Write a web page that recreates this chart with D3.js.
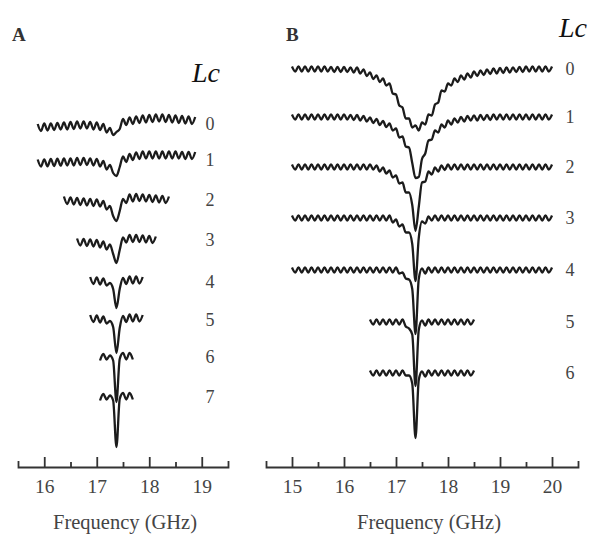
<!DOCTYPE html>
<html>
<head>
<meta charset="utf-8">
<script src="https://cdn.jsdelivr.net/npm/d3@7"></script>
<style>
  body { margin: 0; background: #fff; }
</style>
</head>
<body>
<script>
// sample spacing along frequency (GHz) used for every trace
var stepGHz = 0.0625;
var serif = "'Liberation Serif', 'Times New Roman', serif";

// ---- panel A ----
var lcA = ["0", "1", "2", "3", "4", "5", "6", "7"];
var startA = [15.875, 15.875, 16.375, 16.625, 16.875, 16.875, 17.0625, 17.0625];
var baseA = [0, -36, -76, -116, -158, -196, -233, -273];   // stacking offset (a.u.)
var traceA0 = [0,-7,0.5,-6.5,0.5,-6,1,-5.5,1.5,-5.5, 2,-5,2.5,-4.5,2.5,-4.5,2,-5.5,1.5,-6,
  0,-8.5,-4,-11,-8,-5,5,-1,6.5,0, 7.5,1,8.5,1.5,9,2,9.5,2.5,9.5,2, 9,1.5,8.5,1,8,0.5,7.5,0,7];
var traceA1 = [0.5,-6.5,0.7,-6.3,1,-6,1.3,-5.7,1.5,-5.5, 1.5,-5.5,2,-5,2,-5,1.5,-5.5,1,-6.5,
  -1,-9.5,-5,-13,-16,-7,3.5,-2,6,0, 7.5,1,8.5,1.5,8.5,1.5,8.5,1.5,8.5,1.5, 8.5,1.5,8.5,1.5,8,1,8,1,8];
var traceA2 = [3.5,-4,2.5,-4.5,2,-5,1.5,-5.5,1,-6, 0.5,-6.5,-1,-9.5,-6,-16,-21,-11,1,-3,
  5.5,-1.5,6,-1,5.5,-1.5,5,-2,4.5,-2.5, 4,-3,3.5];
var traceA3 = [1.5,-5.5,1,-6,0.5,-6.5,0,-7.5,-1.5,-9.5, -4.5,-14,-23,-10,2.5,-2.5,5,-2,5,-2,
  4.5,-2.5,4,-3,3.5];
var traceA4 = [5,-2,4.5,-2.5,3.5,-3.5,-1,-7,-26,-7,4,-2,5.5,-1.5,5.5,-1.5,5];
var traceA5 = [5,-2,4.5,-2.5,3.5,-3.5,-1,-7,-33,-8,4,-2,5.5,-1.5,5.5,-1.5,5];
var traceA6 = [-3.5,3,-2.5,1.5,-3.5,-45,-2,4,-2.5,4,-2.5];
var traceA7 = [-3.5,3,-2.5,1.5,-3.5,-50,-2,4,-2.5,4,-2.5];
var tracesA = [traceA0, traceA1, traceA2, traceA3, traceA4, traceA5, traceA6, traceA7];
var majorA = [16, 17, 18, 19];
var minorA = [16.5, 17.5, 18.5];

// ---- panel B ----
var lcB = ["0", "1", "2", "3", "4", "5", "6"];
var startB = [15, 15, 15, 15, 15, 16.5, 16.5];
var baseB = [0, -48, -98, -149, -201, -253, -304];
var traceB0 = [2.5,-2.5,2.5,-2.5,2.5,-2.5,2.5,-2.5,2.5,-2.5, 2.5,-2.5,2,-3,2,-3,2,-3,1.5,-3.5,
  1.5,-4.5,-0.5,-7,-3.5,-10,-6.5,-13,-9.5,-16.5, -14.5,-24.5,-25.5,-36.5,-38.5,-49.5,-49.5,-58.5,-56.5,-61.5,
  -53.5,-55.5,-45.5,-46.5,-35.5,-33.5,-21.5,-22.5,-14.5,-16.5, -9.5,-13,-6.5,-10.5,-4.5,-8.5,-2.5,-7,-1.5,-6,
  -0.5,-5,0.5,-4.5,1,-4,1.5,-3.5,1.5,-3, 2,-3,2.5,-2.5,2.5,-2.5,2.5,-2.5,2.5,-2.5, 2.5];
var traceB1 = [2.5,-2.5,2.5,-2.5,2.5,-2.5,2.5,-2.5,2.5,-2.5, 2.5,-2.5,2.5,-2.5,2.5,-2.5,2.5,-2.5,2,-3,
  2,-3.5,1,-4.5,-0.5,-6,-2,-8,-4,-10, -6.5,-13.5,-11.5,-20.5,-19.5,-29.5,-30.5,-46,-61,-60,
  -42,-36.5,-23.5,-22.5,-13.5,-15.5,-7.5,-10.5,-3.5,-7.5, -1.5,-5.5,0,-4.5,1,-3.5,1.5,-3.5,2,-3,
  2,-3,2.5,-2.5,2.5,-2.5,2.5,-2.5,2.5,-2.5, 2.5,-2.5,2.5,-2.5,2.5,-2.5,2.5,-2.5,2.5,-2.5, 2.5];
var traceB2 = [2.5,-2.5,2.5,-2.5,2.5,-2.5,2.5,-2.5,2.5,-2.5, 2.5,-2.5,2.5,-2.5,2.5,-2.5,2.5,-2.5,2.5,-2.5,
  2.5,-2.5,2.5,-2.5,2.5,-2.5,1.5,-4.5,-0.5,-6.5, -3.5,-10.5,-8.5,-16.5,-15.5,-25.5,-25.5,-38,-64,-40,
  -15.5,-14.5,-4.5,-7.5,-0.5,-4.5,1.5,-3,2.5,-2.5, 2.5,-2.5,2.5,-2.5,2.5,-2.5,2.5,-2.5,2.5,-2.5,
  2.5,-2.5,2.5,-2.5,2.5,-2.5,2.5,-2.5,2.5,-2.5, 2.5,-2.5,2.5,-2.5,2.5,-2.5,2.5,-2.5,2.5,-2.5, 2.5];
var traceB3 = [2.5,-2.5,2.5,-2.5,2.5,-2.5,2.5,-2.5,2.5,-2.5, 2.5,-2.5,2.5,-2.5,2.5,-2.5,2.5,-2.5,2.5,-2.5,
  2.5,-2.5,2.5,-2.5,2.5,-2.5,2.5,-2.5,2.5,-2.5, 2.5,-4.5,-1.5,-8.5,-6.5,-14.5,-14.5,-26,-63,-20,
  -3.5,-5.5,1.5,-2.5,2.5,-2.5,2.5,-2.5,2.5,-2.5, 2.5,-2.5,2.5,-2.5,2.5,-2.5,2.5,-2.5,2.5,-2.5,
  2.5,-2.5,2.5,-2.5,2.5,-2.5,2.5,-2.5,2.5,-2.5, 2.5,-2.5,2.5,-2.5,2.5,-2.5,2.5,-2.5,2.5,-2.5, 2.5];
var traceB4 = [2.5,-2.5,2.5,-2.5,2.5,-2.5,2.5,-2.5,2.5,-2.5, 2.5,-2.5,2.5,-2.5,2.5,-2.5,2.5,-2.5,2.5,-2.5,
  2.5,-2.5,2.5,-2.5,2.5,-2.5,2.5,-2.5,2.5,-2.5, 2.5,-2.5,2.5,-3.5,-2.5,-8.5,-9.5,-19,-64,-9,
  1.5,-3.5,2.5,-2.5,2.5,-2.5,2.5,-2.5,2.5,-2.5, 2.5,-2.5,2.5,-2.5,2.5,-2.5,2.5,-2.5,2.5,-2.5,
  2.5,-2.5,2.5,-2.5,2.5,-2.5,2.5,-2.5,2.5,-2.5, 2.5,-2.5,2.5,-2.5,2.5,-2.5,2.5,-2.5,2.5,-2.5, 2.5];
var traceB5 = [2.5,-2.5,2.5,-2.5,2.5,-2.5,2.5,-2.5,2.5,-2.5, 2.5,-4.5,-6.5,-12.5,-64,-8,1.5,-3.5,2.5,-2.5,
  2.5,-2.5,2.5,-2.5,2.5,-2.5,2.5,-2.5,2.5,-2.5, 2.5,-2.5,2.5];
var traceB6 = [2.5,-2.5,2.5,-2.5,2.5,-2.5,2.5,-2.5,2.5,-2.5, 2.5,-2.5,-2.5,-10.5,-65,-7,1.5,-3.5,2.5,-2.5,
  2.5,-2.5,2.5,-2.5,2.5,-2.5,2.5,-2.5,2.5,-2.5, 2.5,-2.5,2.5];
var tracesB = [traceB0, traceB1, traceB2, traceB3, traceB4, traceB5, traceB6];
var majorB = [15, 16, 17, 18, 19, 20];
var minorB = [15.5, 16.5, 17.5, 18.5, 19.5];

var width = 591, height = 536;
var axisY = 467;

var svg = d3.select("body").append("svg")
    .attr("width", width)
    .attr("height", height);

function drawPanel(p) {
    var x = d3.scaleLinear().domain(p.domain).range(p.range);
    var y = d3.scaleLinear().domain([0, -340]).range([p.top, p.top + 340]);
    var g = svg.append("g");

    var line = d3.line()
        .curve(d3.curveMonotoneX)
        .x(function (d) { return x(d.f); })
        .y(function (d) { return y(d.v); });

    p.traces.forEach(function (vals, k) {
        var pts = vals.map(function (v, i) {
            return {f: p.start[k] + i * stepGHz, v: p.base[k] + v};
        });
        g.append("path")
            .attr("d", line(pts))
            .attr("fill", "none")
            .attr("stroke", "#1c1c1c")
            .attr("stroke-width", 2.3)
            .attr("stroke-linejoin", "round");
        g.append("text")
            .attr("x", p.labelX)
            .attr("y", y(p.base[k]))
            .attr("dy", "0.35em")
            .attr("text-anchor", "middle")
            .attr("fill", "#444")
            .style("font-family", serif)
            .style("font-size", "18px")
            .text(p.lc[k]);
    });

    // minor ticks (half GHz)
    g.append("g")
        .attr("transform", "translate(0," + axisY + ")")
        .call(d3.axisBottom(x).tickValues(p.minor).tickSize(-5).tickFormat(""))
        .call(function (a) { a.select(".domain").remove(); })
        .selectAll("line").attr("stroke", "#333").attr("stroke-width", 1.8);

    // major ticks
    var ax = g.append("g")
        .attr("transform", "translate(0," + axisY + ")")
        .call(d3.axisBottom(x).tickValues(p.major)
            .tickSizeInner(-10).tickSizeOuter(-6).tickPadding(12)
            .tickFormat(d3.format("d")));
    ax.select(".domain").attr("stroke", "#333").attr("stroke-width", 1.8);
    ax.selectAll("line").attr("stroke", "#333").attr("stroke-width", 1.8);
    ax.selectAll("text")
        .attr("fill", "#444")
        .style("font-family", serif)
        .style("font-size", "19.5px");

    g.append("text")
        .attr("x", p.titleX)
        .attr("y", 529)
        .attr("text-anchor", "middle")
        .attr("fill", "#444")
        .style("font-family", serif)
        .style("font-size", "20.5px")
        .text("Frequency (GHz)");

    g.append("text")
        .attr("x", p.panelX)
        .attr("y", 41)
        .attr("fill", "#333")
        .style("font-family", serif)
        .style("font-size", "19px")
        .style("font-weight", "bold")
        .text(p.name);

    g.append("text")
        .attr("x", p.lcX)
        .attr("y", p.lcY)
        .attr("text-anchor", "middle")
        .attr("fill", "#111")
        .style("font-family", serif)
        .style("font-size", "28px")
        .style("font-style", "italic")
        .text("Lc");
}

drawPanel({
    name: "A", domain: [15.5, 19.5], range: [18, 228], top: 124,
    traces: tracesA, start: startA, base: baseA, lc: lcA,
    major: majorA, minor: minorA,
    labelX: 210, titleX: 125, panelX: 12, lcX: 206, lcY: 82
});

drawPanel({
    name: "B", domain: [14.5, 20.5], range: [266, 578], top: 69,
    traces: tracesB, start: startB, base: baseB, lc: lcB,
    major: majorB, minor: minorB,
    labelX: 570, titleX: 429, panelX: 286, lcX: 573, lcY: 37
});
</script>
</body>
</html>
